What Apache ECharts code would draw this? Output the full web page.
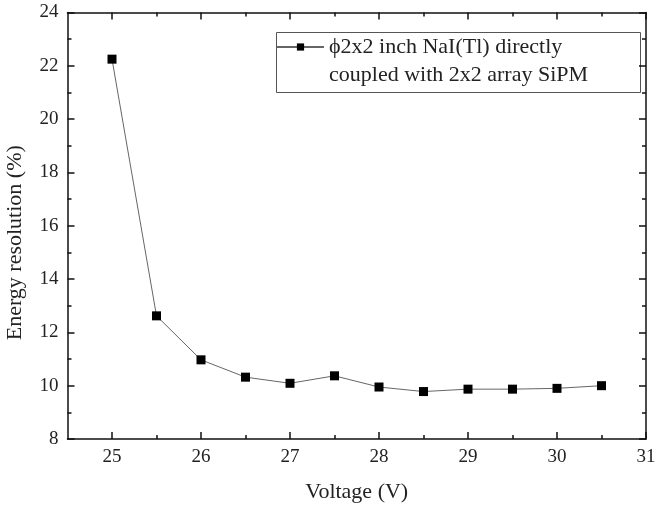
<!DOCTYPE html>
<html>
<head>
<meta charset="utf-8">
<script src="https://cdn.jsdelivr.net/npm/echarts@6/dist/echarts.min.js"></script>
<style>
  html, body { margin: 0; padding: 0; background: #fff; }
  #chart { width: 655px; height: 507px; }
</style>
</head>
<body>
<div id="chart"></div>
<script>
// data
const voltage = [25, 25.5, 26, 26.5, 27, 27.5, 28, 28.5, 29, 29.5, 30, 30.5];
const resolution = [22.25, 12.62, 10.97, 10.32, 10.09, 10.37, 9.95, 9.78, 9.87, 9.87, 9.90, 10.0];
const xMajorTicks = [25, 26, 27, 28, 29, 30, 31];
const xMinorTicks = [25.5, 26.5, 27.5, 28.5, 29.5, 30.5];
const seriesName = 'ϕ2x2 inch NaI(Tl) directly\ncoupled with 2x2 array SiPM';

const font = "'Times New Roman', 'Liberation Serif', serif";
const axisColor = '#111';

// one x axis: line/ticks/labels on given side
function xAxisOf(position, ticks, len, showLine, showLabel) {
  return {
    type: 'value', position: position, min: 24.5, max: 31,
    axisLine: { show: showLine, onZero: false, lineStyle: { color: axisColor, width: 1.5 } },
    axisTick: { show: true, inside: true, length: len, customValues: ticks, lineStyle: { color: axisColor, width: 1.5 } },
    axisLabel: { show: showLabel, customValues: xMajorTicks, margin: 9, color: '#222', fontSize: 19, fontFamily: font },
    splitLine: { show: false }
  };
}

const chart = echarts.init(document.getElementById('chart'));
const option = {
  backgroundColor: '#fff',
  animation: false,
  grid: { left: 67.5, right: 9, top: 12.5, bottom: 68, outerBoundsMode: 'none' },
  graphic: [{
    type: 'rect', left: 274, top: 30,
    shape: { width: 364, height: 60 },
    style: { fill: 'none', stroke: '#555', lineWidth: 1 }
  }],
  legend: {
    left: 276, top: 5, padding: 0,
    itemWidth: 47, itemHeight: 9,
    data: [seriesName],
    // leading empty line keeps the symbol level with the first text line
    formatter: name => '\n' + name,
    textStyle: { fontSize: 22, fontFamily: font, color: '#222', lineHeight: 28 }
  },
  xAxis: [
    Object.assign(xAxisOf('bottom', xMajorTicks, 7, true, true), {
      name: 'Voltage (V)', nameLocation: 'middle', nameGap: 42,
      nameTextStyle: { fontSize: 22, fontFamily: font, color: '#222' }
    }),
    xAxisOf('bottom', xMinorTicks, 4, false, false),
    xAxisOf('top', xMajorTicks, 7, true, false),
    xAxisOf('top', xMinorTicks, 4, false, false)
  ],
  yAxis: [
    {
      type: 'value', position: 'left', min: 8, max: 24, interval: 2,
      name: 'Energy resolution (%)', nameLocation: 'middle', nameGap: 41,
      nameTextStyle: { fontSize: 22, fontFamily: font, color: '#222', padding: [0, 34, 0, 0] },
      axisLine: { show: true, lineStyle: { color: axisColor, width: 1.5 } },
      axisTick: { inside: true, length: 7, lineStyle: { color: axisColor, width: 1.5 } },
      minorTick: { show: true, splitNumber: 2, length: 4, lineStyle: { color: axisColor, width: 1.5 } },
      axisLabel: { margin: 9, color: '#222', fontSize: 19, fontFamily: font },
      splitLine: { show: false }
    },
    {
      type: 'value', position: 'right', min: 8, max: 24, interval: 2,
      axisLine: { show: true, lineStyle: { color: axisColor, width: 1.5 } },
      axisTick: { inside: true, length: 7, lineStyle: { color: axisColor, width: 1.5 } },
      minorTick: { show: true, splitNumber: 2, length: 4, lineStyle: { color: axisColor, width: 1.5 } },
      axisLabel: { show: false },
      splitLine: { show: false }
    }
  ],
  series: [{
    name: seriesName,
    type: 'line',
    xAxisIndex: 0, yAxisIndex: 0,
    data: voltage.map((v, i) => [v, resolution[i]]),
    symbol: 'rect', symbolSize: 9,
    lineStyle: { color: '#666', width: 1 },
    itemStyle: { color: '#000' }
  }]
};
chart.setOption(option);
</script>
</body>
</html>
